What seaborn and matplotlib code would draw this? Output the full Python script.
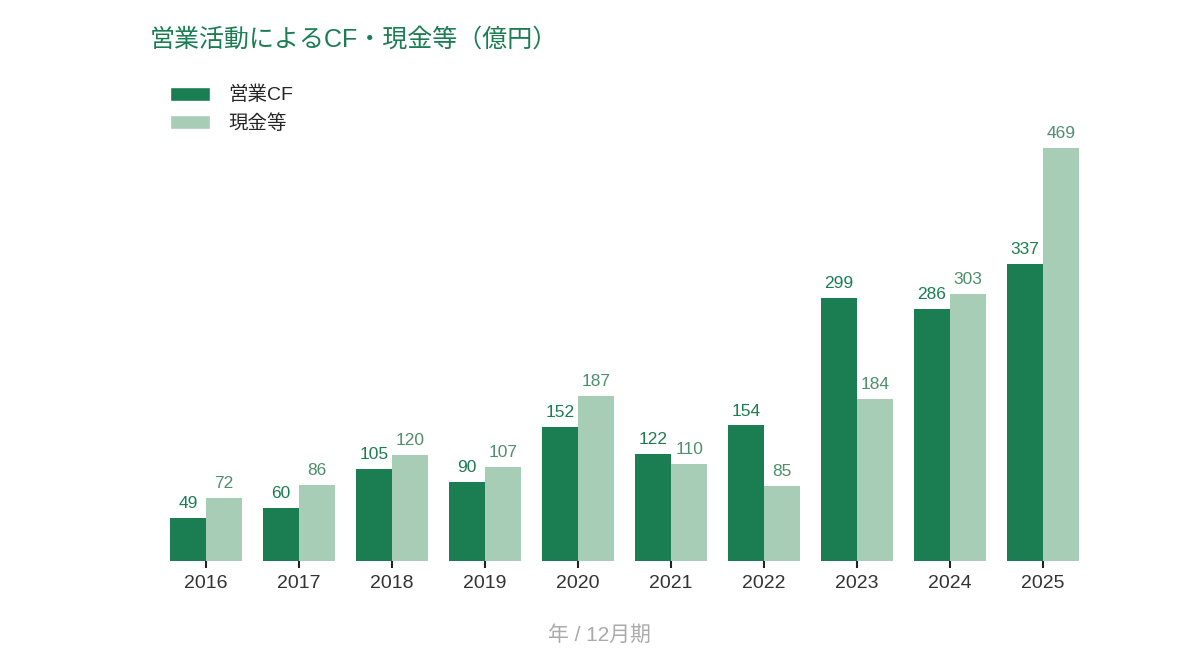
import matplotlib
matplotlib.use("Agg")
import matplotlib.pyplot as plt
import seaborn as sns
import pandas as pd
from matplotlib.patches import Patch

years = ["2016", "2017", "2018", "2019", "2020", "2021", "2022", "2023", "2024", "2025"]
operating_cf = [49, 60, 105, 90, 152, 122, 154, 299, 286, 337]
cash = [72, 86, 120, 107, 187, 110, 85, 184, 303, 469]
series_names = ["営業CF", "現金等"]

title = "営業活動によるCF・現金等（億円）"
xlabel = "年 / 12月期"

dark = "#1b7d52"
light = "#a8cdb6"

df = pd.DataFrame({
    "year": years * 2,
    "value": operating_cf + cash,
    "series": [series_names[0]] * len(years) + [series_names[1]] * len(years),
})

sns.set_theme(style="white")
plt.rcParams["font.family"] = ["Liberation Sans", "Noto Sans CJK JP", "DejaVu Sans"]

fig = plt.figure(figsize=(12, 6.6), dpi=100)
ax = fig.add_axes([0.133, 0.15, 0.775, 0.6667])

sns.barplot(data=df, x="year", y="value", hue="series", order=years,
            hue_order=series_names, palette=[dark, light], width=0.78,
            saturation=1, ax=ax, legend=False, errorbar=None, linewidth=0)

label_colors = [dark, "#4e8f6c"]
for cont, col in zip(ax.containers, label_colors):
    ax.bar_label(cont, fmt="%d", padding=5, fontsize=12.5, color=col)

ax.set_xlim(-0.5, len(years) - 0.5)
ax.set_ylim(0, 500)
for s in ax.spines.values():
    s.set_visible(False)
ax.set_yticks([])
ax.set_ylabel("")
ax.set_xlabel("")
ax.tick_params(axis="x", bottom=True, length=5, width=1.5, color="#222222",
               labelsize=14, labelcolor="#333333", pad=5)

fig.text(0.5, 1 - 635 / 660, xlabel, fontsize=15, color="#aaaaaa",
         ha="center", va="center")
fig.text(0.125, 1 - 40 / 660, title, fontsize=18, color=dark, ha="left", va="center")

handles = [Patch(facecolor=dark), Patch(facecolor=light)]
fig.legend(handles, series_names, loc="upper left", bbox_to_anchor=(0.1415, 1 - 86 / 660),
           frameon=False, fontsize=14, handlelength=2.05, handleheight=0.75,
           handletextpad=0.95, labelspacing=0.5, borderpad=0, borderaxespad=0)

fig.savefig("out.png", dpi=100, facecolor="white")
